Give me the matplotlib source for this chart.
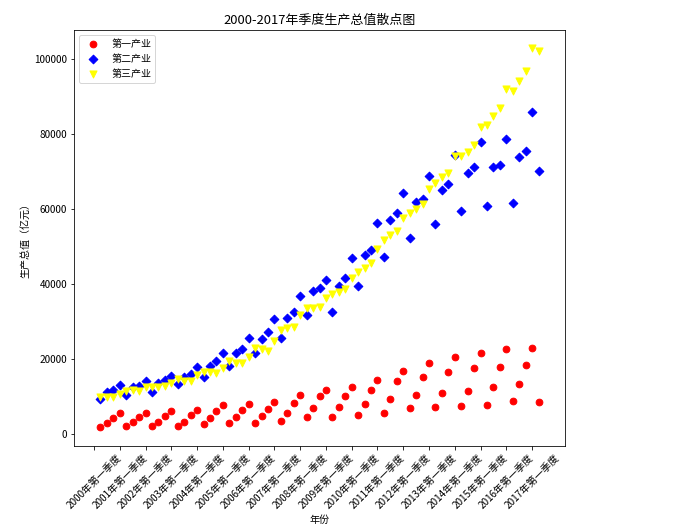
import numpy as np
import matplotlib
matplotlib.use('Agg')
import matplotlib.pyplot as plt

plt.rcParams['font.family'] = ['Noto Sans CJK SC', 'DejaVu Sans']
plt.rcParams['axes.unicode_minus'] = False

## quarterly GDP (100 million yuan), 2000Q1 .. 2017Q1
primary = [1870, 3010, 4270, 5690, 2130, 3290, 4530, 5690, 2130, 3290, 4710, 6040,
           2130, 3290, 4980, 6310, 2760, 4180, 6220, 7730, 2930, 4530, 6490, 7910,
           2930, 4710, 6760, 8530, 3560, 5600, 8270, 10310, 4500, 6800, 10040, 11600,
           4530, 7110, 10040, 12620, 5070, 8000, 11730, 14490, 5600, 9420, 14130, 16800,
           6840, 10310, 15290, 18840, 7110, 10930, 16530, 20620, 7470, 11560, 17690, 21510,
           7730, 12440, 17960, 22670, 8890, 13240, 18490, 22930, 8530]
secondary = [9420, 11200, 11730, 12980, 10490, 12620, 12800, 14130, 11110, 13510, 14400, 15380,
             13240, 15290, 16000, 17960, 15110, 18130, 19470, 21510, 18130, 21510, 22670, 25510,
             21510, 25420, 27110, 30580, 25690, 31020, 32440, 36890, 31640, 38040, 38800, 41000,
             32620, 39470, 41510, 47020, 39470, 47640, 49070, 56180, 47290, 57070, 58840, 64360,
             52270, 61780, 62580, 68890, 55910, 65070, 66670, 74490, 59380, 69510, 71110, 77780,
             60800, 71110, 71640, 78760, 61510, 73780, 75470, 85780, 70220]
tertiary = [9780, 9960, 9960, 10670, 11380, 11730, 11380, 12620, 12440, 12620, 12800, 13690,
            14580, 14220, 14130, 15730, 16530, 16620, 16180, 17510, 19560, 19020, 19020, 20440,
            22840, 22580, 22220, 24800, 27730, 28360, 28620, 31730, 33600, 33600, 33960, 36360,
            37240, 37870, 38670, 41510, 43290, 44180, 45690, 49330, 51730, 53070, 54130, 57690,
            58840, 60000, 61240, 65330, 66840, 68440, 69690, 74130, 74130, 75290, 76980, 81960,
            82490, 84890, 87020, 91910, 91560, 94040, 96710, 102840, 102220]
years = list(range(2000, 2018))
tickLabels = [str(y) + '年第一季度' for y in years]

idx = np.arange(1, len(primary) + 1)

fig = plt.figure(figsize=(694/72, 531/72), dpi=72)
ax = fig.add_axes([74/694, 1 - 445.7/531, 491/694, 415.7/531])
ax.scatter(idx, primary, marker='o', c='red', s=45)
ax.scatter(idx, secondary, marker='D', c='blue', s=38)
ax.scatter(idx, tertiary, marker='v', c='yellow', s=50)

ax.set_xlim(-3.1, 73.1)
ax.set_ylim(-3120, 107730)
ax.set_xticks(range(0, 70, 4))
ax.set_xticklabels(tickLabels, rotation=45, fontsize=10)
ax.tick_params(axis='y', labelsize=10)
ax.set_xlabel('年份', fontsize=10)
ax.set_ylabel('生产总值（亿元）', fontsize=10)
ax.set_title('2000-2017年季度生产总值散点图', fontsize=13)
ax.legend(['第一产业', '第二产业', '第三产业'], loc='upper left', fontsize=10)

fig.savefig('out.png', dpi=72)
